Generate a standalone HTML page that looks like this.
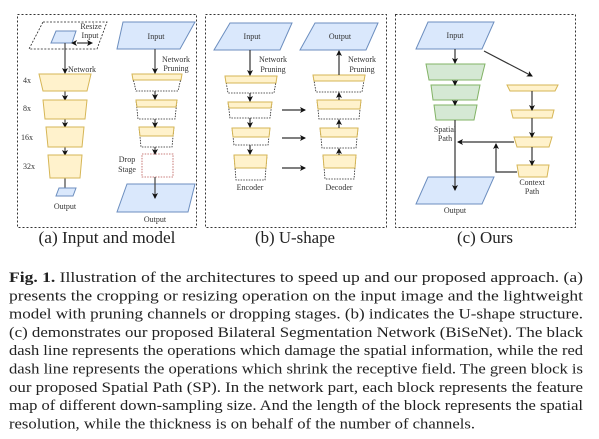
<!DOCTYPE html>
<html><head><meta charset="utf-8"><style>
html,body{margin:0;padding:0;background:#fff;}
svg{display:block;}
text{font-family:"Liberation Serif",serif;}
</style></head><body>
<svg width="599" height="439" viewBox="0 0 599 439" xmlns="http://www.w3.org/2000/svg">
<defs>
<marker id="ah" markerWidth="6" markerHeight="6" refX="5" refY="3" orient="auto" markerUnits="userSpaceOnUse">
<path d="M0,0 L6,3 L0,6 L1.5,3 z" fill="#111"/></marker>
<marker id="ahs" markerWidth="6" markerHeight="6" refX="0" refY="3" orient="auto-start-reverse" markerUnits="userSpaceOnUse">
<path d="M0,0 L6,3 L0,6 L1.5,3 z" fill="#111"/></marker>
</defs>
<g fill="none" stroke="#333" stroke-width="1" stroke-dasharray="2,2">
<rect x="17.5" y="14.5" width="179" height="213"/>
<rect x="205.5" y="14.5" width="181" height="213"/>
<rect x="395.5" y="14.5" width="180" height="213"/>
</g>
<g font-size="16.5" fill="#222" text-anchor="middle">
<text x="107" y="243" textLength="137" lengthAdjust="spacingAndGlyphs">(a) Input and model</text>
<text x="295" y="243" textLength="80" lengthAdjust="spacingAndGlyphs">(b) U-shape</text>
<text x="485" y="243" textLength="56" lengthAdjust="spacingAndGlyphs">(c) Ours</text>
</g>

<!-- Panel a -->
<polygon points="43,22 107,22 97,49 29,49" fill="none" stroke="#222" stroke-dasharray="2,1.5" stroke-width="0.8"/>
<polygon points="56,31 76,31 72,43 51,43" fill="#dae8fc" stroke="#6c8ebf"/>
<g font-size="8" fill="#333" text-anchor="middle">
<text x="91" y="29">Resize</text><text x="90" y="38">Input</text>
</g>
<line x1="77" y1="43" x2="92" y2="43" stroke="#111" marker-start="url(#ahs)" marker-end="url(#ah)"/>
<g stroke="#444" stroke-width="1.2" marker-end="url(#ah)">
<line x1="65" y1="43" x2="65" y2="73"/>
<line x1="65" y1="91" x2="65" y2="100"/>
<line x1="65" y1="119" x2="65" y2="127"/>
<line x1="65" y1="147" x2="65" y2="155"/>
<line x1="65" y1="178" x2="65" y2="194"/>
</g>
<g fill="#fff2cc" stroke="#d6b656">
<polygon points="39,74 91,74 87,91 43,91"/>
<polygon points="43,100 87,100 85,119 45,119"/>
<polygon points="46,127 84,127 82,147 48,147"/>
<polygon points="48,155 82,155 80,178 50,178"/>
</g>
<polygon points="59,188 76,188 73,196 56,196" fill="#dae8fc" stroke="#6c8ebf"/>
<g font-size="8" fill="#333">
<text x="68" y="72">Network</text>
<text x="23" y="83">4x</text><text x="23" y="111">8x</text><text x="21" y="140">16x</text><text x="23" y="169">32x</text>
<text x="65" y="209" text-anchor="middle">Output</text>
</g>
<polygon points="123,22 195,22 180,49 117,49" fill="#dae8fc" stroke="#6c8ebf"/>
<text x="156" y="39" font-size="8" fill="#333" text-anchor="middle">Input</text>
<g font-size="8" fill="#333" text-anchor="middle">
<text x="176" y="62">Network</text><text x="176" y="71">Pruning</text>
</g>
<g stroke="#222" stroke-width="0.8" stroke-dasharray="1.5,1.2" fill="none">
<polygon points="132,74 182,74 178,91 136,91"/>
<polygon points="136,100 177,100 175,119 138,119"/>
<polygon points="139,127 174,127 172,147 141,147"/>
</g>
<g fill="#fff2cc" stroke="#d6b656">
<polygon points="132,74 182,74 181,80 133,80"/>
<polygon points="136,100 177,100 176,107 137,107"/>
<polygon points="139,127 174,127 173,136 140,136"/>
</g>
<rect x="142" y="154" width="31" height="23" fill="none" stroke="#b85450" stroke-dasharray="1.5,1.2" stroke-width="0.8"/>
<g font-size="8" fill="#333" text-anchor="middle"><text x="127" y="162">Drop</text><text x="127" y="172">Stage</text></g>
<polygon points="127,184 195,184 188,212 117,212" fill="#dae8fc" stroke="#6c8ebf"/>
<g stroke="#444" stroke-width="1.2" marker-end="url(#ah)">
<line x1="155" y1="49" x2="155" y2="73"/>
<line x1="155" y1="91" x2="155" y2="99"/>
<line x1="155" y1="119" x2="155" y2="127"/>
<line x1="155" y1="147" x2="155" y2="154"/>
<line x1="155" y1="177" x2="155" y2="198"/>
</g>
<text x="155" y="222" font-size="8" fill="#333" text-anchor="middle">Output</text>

<!-- Panel b -->
<polygon points="230,23 292,23 280,50 214,50" fill="#dae8fc" stroke="#6c8ebf"/>
<polygon points="315,23 378,23 366,50 300,50" fill="#dae8fc" stroke="#6c8ebf"/>
<g font-size="8" fill="#333" text-anchor="middle">
<text x="252" y="39">Input</text><text x="340" y="39">Output</text>
<text x="273" y="62">Network</text><text x="273" y="72">Pruning</text>
<text x="362" y="62">Network</text><text x="362" y="72">Pruning</text>
<text x="250" y="190">Encoder</text><text x="339" y="190">Decoder</text>
</g>
<g stroke="#222" stroke-width="0.8" stroke-dasharray="1.5,1.2" fill="none">
<polygon points="225,76 277,76 274,93 228,93"/>
<polygon points="228,102 272,102 270,118 230,118"/>
<polygon points="232,128 270,128 268,145 234,145"/>
<polygon points="234,155 267,155 265,180 236,180"/>
<polygon points="313,75 365,75 362,92 316,92"/>
<polygon points="317,100 361,100 359,119 319,119"/>
<polygon points="320,128 358,128 356,148 322,148"/>
<polygon points="323,155 356,155 354,179 325,179"/>
</g>
<g fill="#fff2cc" stroke="#d6b656">
<polygon points="225,76 277,76 276,83 226,83"/>
<polygon points="228,102 272,102 271,108 229,108"/>
<polygon points="232,128 270,128 269,137 233,137"/>
<polygon points="234,155 267,155 266,168 235,168"/>
<polygon points="313,75 365,75 364,81 314,81"/>
<polygon points="317,100 361,100 360,109 318,109"/>
<polygon points="320,128 358,128 357,137 321,137"/>
<polygon points="323,155 356,155 355,168 324,168"/>
</g>
<g stroke="#333" stroke-width="1.2" marker-end="url(#ah)">
<line x1="250" y1="50" x2="250" y2="75"/>
<line x1="250" y1="93" x2="250" y2="101"/>
<line x1="250" y1="118" x2="250" y2="127"/>
<line x1="250" y1="145" x2="250" y2="154"/>
<line x1="339" y1="75" x2="339" y2="51"/>
<line x1="339" y1="100" x2="339" y2="93"/>
<line x1="339" y1="128" x2="339" y2="120"/>
<line x1="339" y1="155" x2="339" y2="149"/>
<line x1="282" y1="110" x2="305" y2="110"/>
<line x1="282" y1="138" x2="305" y2="138"/>
<line x1="282" y1="168" x2="305" y2="168"/>
</g>

<!-- Panel c -->
<polygon points="428,22 494,22 482,49 416,49" fill="#dae8fc" stroke="#6c8ebf"/>
<polygon points="428,177 494,177 482,204 416,204" fill="#dae8fc" stroke="#6c8ebf"/>
<g fill="#d5e8d4" stroke="#82b366">
<polygon points="426,64 485,64 481,80 429,80"/>
<polygon points="431,85 480,85 477,100 433,100"/>
<polygon points="434,105 477,105 474,120 436,120"/>
</g>
<g fill="#fff2cc" stroke="#d6b656">
<polygon points="507,85 558,85 555,91 510,91"/>
<polygon points="511,110 554,110 552,118 513,118"/>
<polygon points="514,137 552,137 549,147 517,147"/>
<polygon points="517,165 549,165 547,177 519,177"/>
</g>
<g stroke="#333" stroke-width="1.2" fill="none" marker-end="url(#ah)">
<line x1="455" y1="49" x2="455" y2="63"/>
<line x1="455" y1="80" x2="455" y2="85"/>
<line x1="455" y1="100" x2="455" y2="105"/>
<line x1="455" y1="120" x2="455" y2="190"/>
<line x1="484" y1="51" x2="532" y2="76"/>
<line x1="532" y1="91" x2="532" y2="110"/>
<line x1="532" y1="118" x2="532" y2="137"/>
<line x1="532" y1="147" x2="532" y2="165"/>
<line x1="514" y1="142" x2="458" y2="142"/>
<polyline points="517,172 496,172 496,144"/>
</g>
<g font-size="8" fill="#333" text-anchor="middle">
<text x="455" y="38">Input</text>
<text x="445" y="132">Spatial</text><text x="445" y="141">Path</text>
<text x="532" y="185">Context</text><text x="532" y="194">Path</text>
<text x="455" y="213">Output</text>
</g>

<!-- caption -->
<g font-size="14.3" fill="#222">
<text x="9" y="282" textLength="574" lengthAdjust="spacingAndGlyphs"><tspan font-weight="bold">Fig. 1.</tspan> Illustration of the architectures to speed up and our proposed approach. (a)</text>
<text x="9" y="300.3" textLength="574" lengthAdjust="spacingAndGlyphs">presents the cropping or resizing operation on the input image and the lightweight</text>
<text x="9" y="318.6" textLength="574" lengthAdjust="spacingAndGlyphs">model with pruning channels or dropping stages. (b) indicates the U-shape structure.</text>
<text x="9" y="336.9" textLength="574" lengthAdjust="spacingAndGlyphs">(c) demonstrates our proposed Bilateral Segmentation Network (BiSeNet). The black</text>
<text x="9" y="355.2" textLength="574" lengthAdjust="spacingAndGlyphs">dash line represents the operations which damage the spatial information, while the red</text>
<text x="9" y="373.5" textLength="574" lengthAdjust="spacingAndGlyphs">dash line represents the operations which shrink the receptive field. The green block is</text>
<text x="9" y="391.8" textLength="574" lengthAdjust="spacingAndGlyphs">our proposed Spatial Path (SP). In the network part, each block represents the feature</text>
<text x="9" y="410.1" textLength="574" lengthAdjust="spacingAndGlyphs">map of different down-sampling size. And the length of the block represents the spatial</text>
<text x="9" y="428.4" textLength="466" lengthAdjust="spacingAndGlyphs">resolution, while the thickness is on behalf of the number of channels.</text>
</g>
</svg>
</body></html>
